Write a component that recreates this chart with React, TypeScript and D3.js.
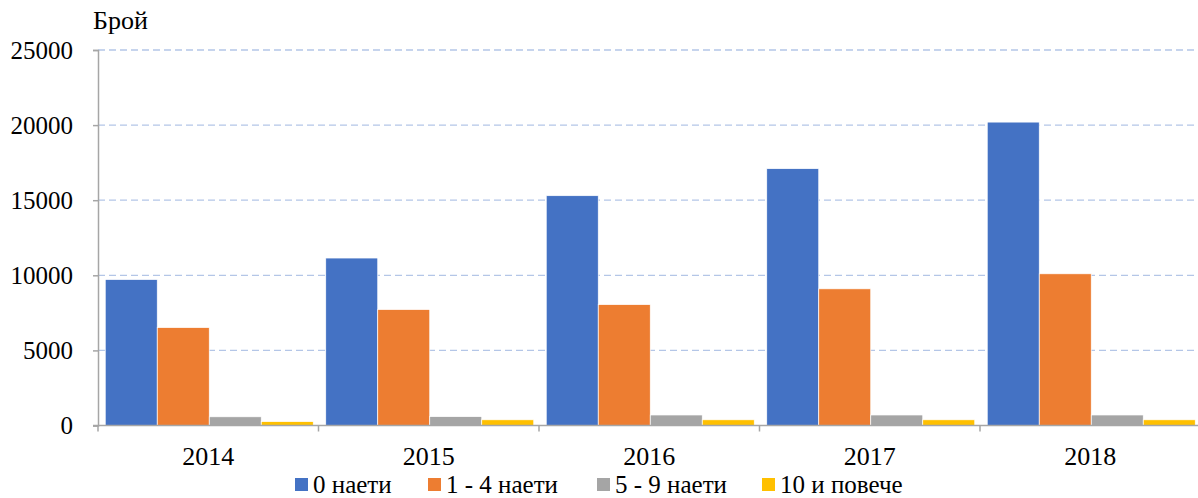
import React, { useEffect, useRef } from "react"
import * as d3 from "d3"

const years = ["2014", "2015", "2016", "2017", "2018"]
const seriesNames = ["0 наети", "1 - 4 наети", "5 - 9 наети", "10 и повече"]
const zeroEmployees = [9720, 11150, 15300, 17100, 20200]
const oneToFour = [6520, 7720, 8050, 9100, 10100]
const fiveToNine = [580, 590, 700, 700, 700]
const tenPlus = [260, 380, 380, 380, 380]
const yTicks = [0, 5000, 10000, 15000, 20000, 25000]
const colors = ["#4472C4", "#ED7D31", "#A5A5A5", "#FFC000"]

export default function App() {
  const ref = useRef(null)

  useEffect(() => {
    const width = 1198
    const height = 498
    const margin = { top: 50, right: 0, bottom: 72, left: 98 }
    const font = "'Liberation Serif', 'Times New Roman', serif"

    const svg = d3.select(ref.current).attr("width", width).attr("height", height)
    svg.selectAll("*").remove()

    const series = [zeroEmployees, oneToFour, fiveToNine, tenPlus]
    const x0 = d3.scaleBand().domain(years).range([margin.left, margin.left + 5 * 220.5])
    const x1 = d3
      .scaleBand()
      .domain(seriesNames)
      .range([0, x0.bandwidth()])
      .paddingOuter(0.12)
    const y = d3
      .scaleLinear()
      .domain([0, 25000])
      .range([height - margin.bottom - 0.5, margin.top])

    // gridlines
    svg
      .append("g")
      .selectAll("line")
      .data(yTicks.filter((t) => t > 0))
      .enter()
      .append("line")
      .attr("x1", margin.left)
      .attr("x2", width)
      .attr("y1", (d) => y(d))
      .attr("y2", (d) => y(d))
      .attr("stroke", "#B4C6E7")
      .attr("stroke-width", 1.3)
      .attr("stroke-dasharray", "7,4")

    // bars
    years.forEach((yr, i) => {
      const g = svg.append("g").attr("transform", "translate(" + (x0(yr) + 1) + ",0)")
      g.selectAll("rect")
        .data(series.map((s, k) => ({ name: seriesNames[k], value: s[i], color: colors[k] })))
        .enter()
        .append("rect")
        .attr("x", (d) => x1(d.name))
        .attr("width", x1.bandwidth())
        .attr("y", (d) => y(d.value))
        .attr("height", (d) => y(0) - y(d.value))
        .attr("fill", (d) => d.color)
        .attr("stroke", "#ffffff")
        .attr("stroke-width", 0.7)
    })

    const axisColor = "#A6A6A6"

    // y axis
    const yAxis = svg
      .append("g")
      .attr("transform", "translate(" + margin.left + ",0)")
      .call(d3.axisLeft(y).tickValues(yTicks).tickSize(5).tickPadding(20).tickFormat(d3.format("d")))
    yAxis.attr("font-family", font)
    yAxis.select(".domain").attr("stroke", axisColor).attr("stroke-width", 1.5)
    yAxis.selectAll(".tick line").attr("stroke", axisColor).attr("stroke-width", 1.5)
    yAxis
      .selectAll(".tick text")
      .attr("font-family", font)
      .attr("font-size", 25)
      .attr("fill", "#000")
      .attr("dy", "0.32em")

    // x axis
    const baseY = y(0)
    svg
      .append("line")
      .attr("x1", margin.left - 5)
      .attr("x2", width)
      .attr("y1", baseY)
      .attr("y2", baseY)
      .attr("stroke", axisColor)
      .attr("stroke-width", 1.5)
    svg
      .append("g")
      .selectAll("line")
      .data(years.concat(["end"]))
      .enter()
      .append("line")
      .attr("x1", (d, i) => margin.left + i * x0.step())
      .attr("x2", (d, i) => margin.left + i * x0.step())
      .attr("y1", baseY)
      .attr("y2", baseY + 6)
      .attr("stroke", axisColor)
      .attr("stroke-width", 1.5)
    svg
      .append("g")
      .selectAll("text")
      .data(years)
      .enter()
      .append("text")
      .attr("x", (d) => x0(d) + x0.bandwidth() / 2)
      .attr("y", 465)
      .attr("text-anchor", "middle")
      .attr("font-family", font)
      .attr("font-size", 26)
      .text((d) => d)

    // axis title
    svg
      .append("text")
      .attr("x", 93)
      .attr("y", 29)
      .attr("font-family", font)
      .attr("font-size", 26)
      .text("Брой")

    // legend
    const legendX = [295, 428, 597, 762]
    const legend = svg
      .append("g")
      .selectAll("g")
      .data(seriesNames)
      .enter()
      .append("g")
      .attr("transform", (d, i) => "translate(" + legendX[i] + ",478)")
    legend
      .append("rect")
      .attr("width", 13)
      .attr("height", 13)
      .attr("fill", (d, i) => colors[i])
    legend
      .append("text")
      .attr("x", 18)
      .attr("y", 15)
      .attr("font-family", font)
      .attr("font-size", 25)
      .text((d) => d)
  }, [])

  return <svg ref={ref} style={{ position: "absolute", left: 0, top: 0 }}></svg>
}
